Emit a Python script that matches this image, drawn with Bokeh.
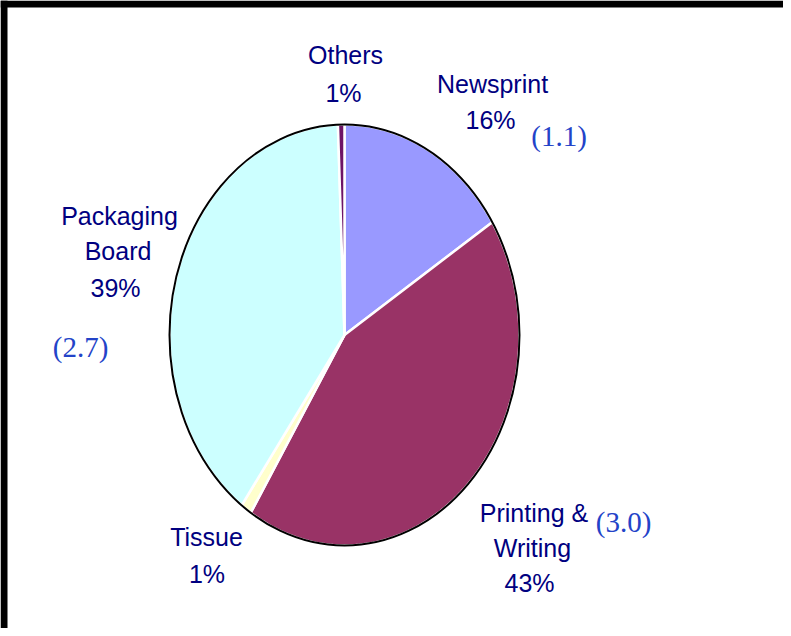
import math
from bokeh.plotting import figure
from bokeh.models import Range1d, Label, ColumnDataSource
from bokeh.embed import file_html
from bokeh.resources import INLINE

# ---- data ----
categories = ["Newsprint", "Printing & Writing", "Tissue", "Packaging Board", "Others"]
shares = [16.0, 43.0, 1.0, 39.4, 0.6]          # percent of total (slices)
pct_labels = ["16%", "43%", "1%", "39%", "1%"]
growth_labels = ["(1.1)", "(3.0)", "(2.7)"]
colors = ["#9999FF", "#993366", "#FFFFCC", "#CCFFFF", "#6E1466"]

# ---- layout (canvas pixels) ----
W, H = 783, 628
BT, BL = 7, 7                      # black band top / left
CX, CY = 344.0, 334.5              # pie centre
RX, RY = 175.0, 210.5              # pie radii

def dx(px):
    return (px - CX) / RX

def dy(py):
    return (CY - py) / RY

x_range = Range1d(dx(0), dx(W))
y_range = Range1d(dy(H), dy(0))

p = figure(width=W, height=H, x_range=x_range, y_range=y_range,
           output_backend="svg", toolbar_location=None,
           x_axis_type=None, y_axis_type=None, min_border=0)
p.grid.visible = False
p.outline_line_color = None
p.background_fill_color = "white"
p.border_fill_color = "white"

# black frame bands (top and left)
p.quad(left=[dx(0), dx(0)], right=[dx(W), dx(BL)],
       top=[dy(0), dy(0)], bottom=[dy(BT), dy(H)],
       fill_color="black", line_color=None)

# slices (clockwise from 12 o'clock) on a unit circle in data space
xs, ys = [], []
total = sum(shares)
start = 0.0
for s in shares:
    end = start + s / total * 2 * math.pi
    n = max(int((end - start) / 0.01), 2)
    angs = [start + (end - start) * i / n for i in range(n + 1)]
    xs.append([0.0] + [math.sin(a) for a in angs])
    ys.append([0.0] + [math.cos(a) for a in angs])
    start = end

src = ColumnDataSource(dict(xs=xs, ys=ys, color=colors, name=categories))
p.patches("xs", "ys", source=src, fill_color="color", line_color="white",
          line_width=2.5)
p.ellipse(x=0, y=0, width=2, height=2, fill_color=None, line_color="black",
          line_width=2)

# ---- labels ----
def lab(text, px, py, font="Liberation Sans", size="25px", color="#000080"):
    p.add_layout(Label(x=dx(px), y=dy(py),
                       text=text, text_font=font, text_font_size=size,
                       text_color=color, text_align="center",
                       text_baseline="alphabetic"))

blue = "#2343C8"
lab("Others", 345, 54)
lab(pct_labels[4], 343, 92)
lab("Newsprint", 492, 83)
lab(pct_labels[0], 490, 119)
lab("Packaging", 119, 215)
lab("Board", 117.5, 250)
lab(pct_labels[3], 115, 287)
lab("Tissue", 206, 536)
lab(pct_labels[2], 206.5, 573)
lab("Printing &", 533.5, 512)
lab("Writing", 532, 547)
lab(pct_labels[1], 529, 582)
lab(growth_labels[0], 558.5, 135, font="Liberation Serif", size="29px", color=blue)
lab(growth_labels[2], 80, 346, font="Liberation Serif", size="29px", color=blue)
lab(growth_labels[1], 623, 521, font="Liberation Serif", size="29px", color=blue)

open("out.html", "w").write(file_html(p, INLINE))
